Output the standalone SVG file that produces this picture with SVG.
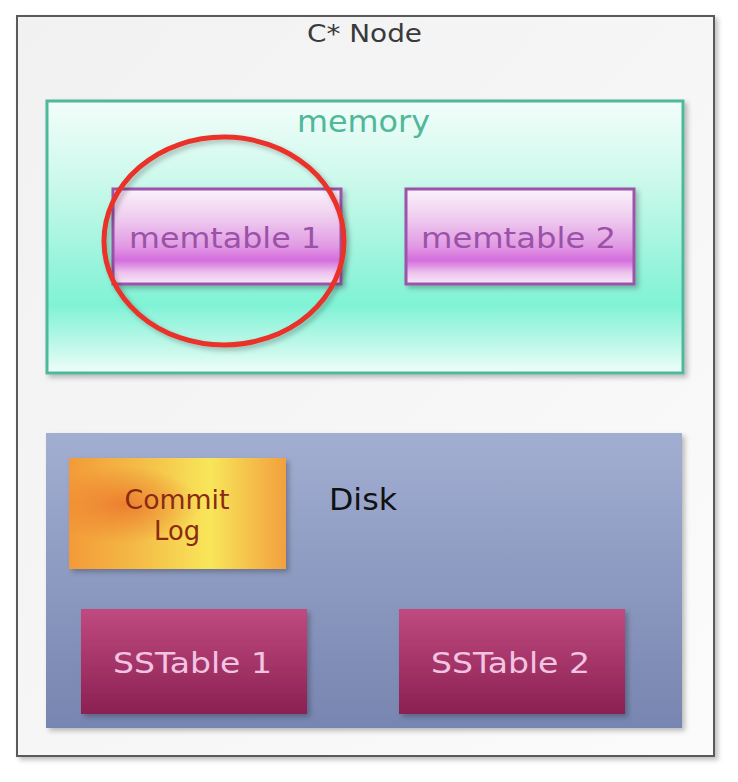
<svg xmlns="http://www.w3.org/2000/svg" width="738" height="782" viewBox="0 0 738 782">
<defs>
<style>
.t{font-family:"DejaVu Sans","Verdana",sans-serif;text-anchor:middle}
</style>
<filter id="sh" x="-5%" y="-5%" width="115%" height="115%">
<feDropShadow dx="3" dy="3" stdDeviation="2.5" flood-color="#000" flood-opacity="0.25"/>
</filter>
<linearGradient id="gOuter" x1="0" y1="0" x2="1" y2="1">
<stop offset="0" stop-color="#f1f1f1"/><stop offset="1" stop-color="#fbfbfb"/>
</linearGradient>
<linearGradient id="gMem" x1="0" y1="0" x2="0" y2="1">
<stop offset="0" stop-color="#f3fdfa"/><stop offset="0.3" stop-color="#cbf9eb"/><stop offset="0.6" stop-color="#98f4db"/><stop offset="0.75" stop-color="#80f3d6"/><stop offset="0.9" stop-color="#bff8e9"/><stop offset="1" stop-color="#f0fdf9"/>
</linearGradient>
<linearGradient id="gMt" x1="0" y1="0" x2="0" y2="1">
<stop offset="0" stop-color="#fbf2fb"/><stop offset="0.3" stop-color="#efcdef"/><stop offset="0.6" stop-color="#e29ae4"/><stop offset="0.75" stop-color="#d46ddd"/><stop offset="0.88" stop-color="#ecc2ee"/><stop offset="1" stop-color="#f8e8f8"/>
</linearGradient>
<linearGradient id="gDisk" x1="0" y1="0" x2="0" y2="1">
<stop offset="0" stop-color="#a2aed1"/><stop offset="1" stop-color="#7785b0"/>
</linearGradient>
<linearGradient id="gLog" x1="0" y1="0" x2="1" y2="0">
<stop offset="0" stop-color="#f39a38"/><stop offset="0.35" stop-color="#f4bf48"/><stop offset="0.65" stop-color="#f8e65a"/><stop offset="1" stop-color="#f2a03e"/>
</linearGradient>
<radialGradient id="gLogR" cx="0.25" cy="0.42" r="0.35">
<stop offset="0" stop-color="#ec7a2e" stop-opacity="0.9"/><stop offset="1" stop-color="#ec7a2e" stop-opacity="0"/>
</radialGradient>
<linearGradient id="gSS" x1="0" y1="0" x2="0" y2="1">
<stop offset="0" stop-color="#c04a80"/><stop offset="1" stop-color="#8a2052"/>
</linearGradient>
</defs>

<g id="node-cstar">
<rect x="17" y="16" width="697" height="740" fill="url(#gOuter)" stroke="#5a5a5a" stroke-width="2" filter="url(#sh)"/>
<text class="t" x="364.5" y="42" font-size="25" fill="#3a3a3a" textLength="115" lengthAdjust="spacingAndGlyphs">C* Node</text>
</g>

<g id="node-memory">
<rect x="47" y="101" width="636" height="272" fill="url(#gMem)" stroke="#4fb89b" stroke-width="3" filter="url(#sh)"/>
<text class="t" x="363.5" y="132" font-size="31" fill="#4fb899" textLength="133" lengthAdjust="spacingAndGlyphs">memory</text>
</g>

<g id="node-memtable1">
<rect x="113" y="189" width="228" height="95" fill="url(#gMt)" stroke="#9a55aa" stroke-width="3" filter="url(#sh)"/>
<text class="t" x="225" y="248" font-size="28" fill="#9a52a8" textLength="192" lengthAdjust="spacingAndGlyphs">memtable 1</text>
</g>

<g id="node-memtable2">
<rect x="406" y="189" width="228" height="95" fill="url(#gMt)" stroke="#9a55aa" stroke-width="3" filter="url(#sh)"/>
<text class="t" x="518.5" y="248" font-size="28" fill="#9a52a8" textLength="195" lengthAdjust="spacingAndGlyphs">memtable 2</text>
</g>

<g id="node-disk">
<rect x="46" y="433" width="636" height="295" fill="url(#gDisk)" filter="url(#sh)"/>
<text class="t" x="363" y="510" font-size="31" fill="#111" textLength="68" lengthAdjust="spacingAndGlyphs">Disk</text>
</g>

<g id="node-commitlog">
<rect x="69" y="458" width="217" height="111" fill="url(#gLog)" filter="url(#sh)"/>
<rect x="69" y="458" width="217" height="111" fill="url(#gLogR)"/>
<text class="t" x="177" y="509" font-size="26" fill="#8a2a12" textLength="105" lengthAdjust="spacingAndGlyphs">Commit</text>
<text class="t" x="177" y="540" font-size="26" fill="#8a2a12" textLength="46" lengthAdjust="spacingAndGlyphs">Log</text>
</g>

<g id="node-sstable1">
<rect x="81" y="609" width="226" height="105" fill="url(#gSS)" filter="url(#sh)"/>
<text class="t" x="192.5" y="673" font-size="29" fill="#f2c4e2" textLength="159" lengthAdjust="spacingAndGlyphs">SSTable 1</text>
</g>

<g id="node-sstable2">
<rect x="399" y="609" width="226" height="105" fill="url(#gSS)" filter="url(#sh)"/>
<text class="t" x="510.5" y="673" font-size="29" fill="#f2c4e2" textLength="159" lengthAdjust="spacingAndGlyphs">SSTable 2</text>
</g>

<g id="connectors">
<ellipse cx="224" cy="241" rx="120" ry="104" fill="none" stroke="#e8332a" stroke-width="5" filter="url(#sh)"/>
</g>
</svg>
